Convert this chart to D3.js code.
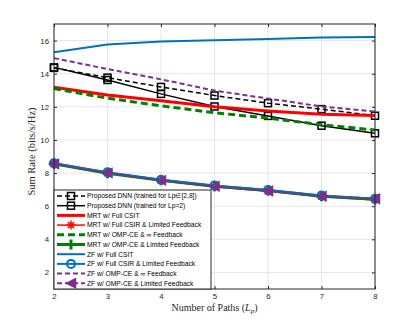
<!DOCTYPE html>
<html><head><meta charset="utf-8">
<script src="https://cdn.jsdelivr.net/npm/d3@7"></script>
<style>body{margin:0;background:#fff}svg{display:block}</style>
</head><body>
<script>
const paths = [2,3,4,5,6,7,8];
const xTicks = [2,3,4,5,6,7,8];
const yTicks = [2,4,6,8,10,12,14,16];
const dnnRange = [14.35,13.76,13.2,12.68,12.22,11.86,11.46];
const dnnLp2 = [14.38,13.62,12.78,12.02,11.45,10.86,10.4];
const mrtFull = [13.18,12.72,12.36,12.0,11.74,11.55,11.47];
const mrtFullLF = [8.55,8.0,7.55,7.18,6.9,6.58,6.38];
const mrtOmpInf = [13.1,12.52,12.06,11.64,11.32,10.92,10.6];
const mrtOmpLF = [8.56,7.99,7.56,7.21,6.95,6.6,6.42];
const zfFull = [15.3,15.76,15.94,16.02,16.1,16.18,16.22];
const zfFullLF = [8.6,8.05,7.6,7.25,6.98,6.65,6.45];
const zfOmpInf = [14.94,14.28,13.66,12.98,12.5,12.02,11.72];
const zfOmpLF = [8.55,8.01,7.56,7.2,6.92,6.6,6.45];
const legendLabels = [
  "Proposed DNN (trained for Lp\u2208[2,8])",
  "Proposed DNN (trained for Lp=2)",
  "MRT w/ Full CSIT",
  "MRT w/ Full CSIR & Limited Feedback",
  "MRT w/ OMP-CE & \u221e Feedback",
  "MRT w/ OMP-CE & Limited Feedback",
  "ZF w/ Full CSIT",
  "ZF w/ Full CSIR & Limited Feedback",
  "ZF w/ OMP-CE & \u221e Feedback",
  "ZF w/ OMP-CE & Limited Feedback"
];

const W=415,H=325, L=54,R=375,T=24,B=289;
const BLUE="#0072BD", PURPLE="#7E2F8E", RED="#FF0000", GREEN="#008000", BLACK="#000000";
const series = [
  {d:dnnRange, c:BLACK, w:1.5, dash:"5,3", m:"square"},
  {d:dnnLp2, c:BLACK, w:1.5, dash:null, m:"square"},
  {d:mrtFull, c:RED, w:3, dash:null, m:null},
  {d:mrtFullLF, c:RED, w:1.5, dash:null, m:"asterisk"},
  {d:mrtOmpInf, c:GREEN, w:3, dash:"7,4", m:null},
  {d:mrtOmpLF, c:GREEN, w:3, dash:null, m:"plus"},
  {d:zfFull, c:BLUE, w:2, dash:null, m:null},
  {d:zfFullLF, c:BLUE, w:2, dash:null, m:"circle"},
  {d:zfOmpInf, c:PURPLE, w:2, dash:"5,3", m:null},
  {d:zfOmpLF, c:PURPLE, w:2, dash:"5,3", m:"triangle"}
];

const svg = d3.select("body").append("svg").attr("width",W).attr("height",H);
const x = d3.scaleLinear().domain([2,8]).range([L,R]);
const y = d3.scaleLinear().domain([1,17]).range([B,T]);

// grid
const g = svg.append("g");
g.selectAll(".gx").data(xTicks).enter().append("line")
  .attr("x1",d=>x(d)).attr("x2",d=>x(d)).attr("y1",T).attr("y2",B)
  .attr("stroke","#e6e6e6").attr("stroke-width",1);
g.selectAll(".gy").data(yTicks).enter().append("line")
  .attr("x1",L).attr("x2",R).attr("y1",d=>y(d)).attr("y2",d=>y(d))
  .attr("stroke","#e6e6e6").attr("stroke-width",1);

function marker(sel, type, c, size){
  const s=size;
  if(type==="square"){
    sel.append("rect").attr("x",-s/2).attr("y",-s/2).attr("width",s).attr("height",s)
      .attr("fill","none").attr("stroke",c).attr("stroke-width",1.5);
  } else if(type==="asterisk"){
    const r=s/2, q=r*0.707;
    sel.append("path").attr("d",`M${-r},0L${r},0M0,${-r}L0,${r}M${-q},${-q}L${q},${q}M${-q},${q}L${q},${-q}`)
      .attr("stroke",c).attr("stroke-width",1.5).attr("fill","none");
  } else if(type==="plus"){
    const r=s/2;
    sel.append("path").attr("d",`M${-r},0L${r},0M0,${-r}L0,${r}`)
      .attr("stroke",c).attr("stroke-width",3).attr("fill","none");
  } else if(type==="circle"){
    sel.append("circle").attr("r",s/2).attr("fill","none").attr("stroke",c).attr("stroke-width",2);
  } else if(type==="triangle"){
    const r=s/2;
    sel.append("path").attr("d",`M${-r},0L${r},${-r}L${r},${r}Z`)
      .attr("fill",c).attr("stroke",c).attr("stroke-width",1.5);
  }
}
const msize = {square:7, asterisk:9, plus:10, circle:8, triangle:9};

const line = d3.line().x((d,i)=>x(paths[i])).y(d=>y(d));
const plot = svg.append("g");
series.forEach(s=>{
  plot.append("path").attr("d",line(s.d)).attr("fill","none")
    .attr("stroke",s.c).attr("stroke-width",s.w).attr("stroke-dasharray",s.dash);
  if(s.m){
    s.d.forEach((v,i)=>{
      const mg = plot.append("g").attr("transform",`translate(${x(paths[i])},${y(v)})`);
      marker(mg,s.m,s.c,msize[s.m]);
    });
  }
});

// axes box
const axc="#262626";
svg.append("rect").attr("x",L).attr("y",T).attr("width",R-L).attr("height",B-T)
  .attr("fill","none").attr("stroke",axc).attr("stroke-width",1);
const xa = svg.append("g").attr("transform",`translate(0,${B})`)
  .call(d3.axisBottom(x).tickValues(xTicks).tickSize(-3).tickPadding(4).tickFormat(d3.format("d")));
const xt = svg.append("g").attr("transform",`translate(0,${T})`)
  .call(d3.axisTop(x).tickValues(xTicks).tickSize(-3).tickFormat(""));
const ya = svg.append("g").attr("transform",`translate(${L},0)`)
  .call(d3.axisLeft(y).tickValues(yTicks).tickSize(-3).tickPadding(5).tickFormat(d3.format("d")));
const yr = svg.append("g").attr("transform",`translate(${R},0)`)
  .call(d3.axisRight(y).tickValues(yTicks).tickSize(-3).tickFormat(""));
[xa,xt,ya,yr].forEach(a=>{
  a.select(".domain").remove();
  a.selectAll("line").attr("stroke",axc);
  a.selectAll("text").attr("fill",axc).attr("font-family","Liberation Sans, Arial, sans-serif").attr("font-size",7.8);
});

// legend
const lg = svg.append("g");
const lx=54, ly=190, lw=157, lh=99;
lg.append("rect").attr("x",lx).attr("y",ly).attr("width",lw).attr("height",lh)
  .attr("fill","#fff").attr("stroke",axc).attr("stroke-width",1);
series.forEach((s,i)=>{
  const yy = 196 + i*9.7;
  lg.append("line").attr("x1",57).attr("x2",85).attr("y1",yy).attr("y2",yy)
    .attr("stroke",s.c).attr("stroke-width",s.w).attr("stroke-dasharray",s.dash);
  if(s.m){
    const mg = lg.append("g").attr("transform",`translate(71,${yy})`);
    marker(mg,s.m,s.c,msize[s.m]);
  }
  lg.append("text").attr("x",87).attr("y",yy).attr("dy","0.35em")
    .attr("font-family","Liberation Sans, Arial, sans-serif").attr("font-size",6.7)
    .attr("fill","#000").text(legendLabels[i]);
});

// labels
const xl = svg.append("text").attr("x",(L+R)/2).attr("y",311).attr("text-anchor","middle")
  .attr("font-family","Liberation Serif, Times New Roman, serif").attr("font-size",10).attr("fill",axc);
xl.append("tspan").text("Number of Paths (");
xl.append("tspan").attr("font-style","italic").text("L");
xl.append("tspan").attr("font-size",7).attr("dy",2).attr("font-style","italic").text("p");
xl.append("tspan").attr("dy",-2).text(")");
svg.append("text").attr("transform",`translate(35,${(T+B)/2-5}) rotate(-90)`).attr("text-anchor","middle")
  .attr("font-family","Liberation Serif, Times New Roman, serif").attr("font-size",10.5).attr("fill",axc)
  .text("Sum Rate (bits/s/Hz)");
</script>
</body></html>
